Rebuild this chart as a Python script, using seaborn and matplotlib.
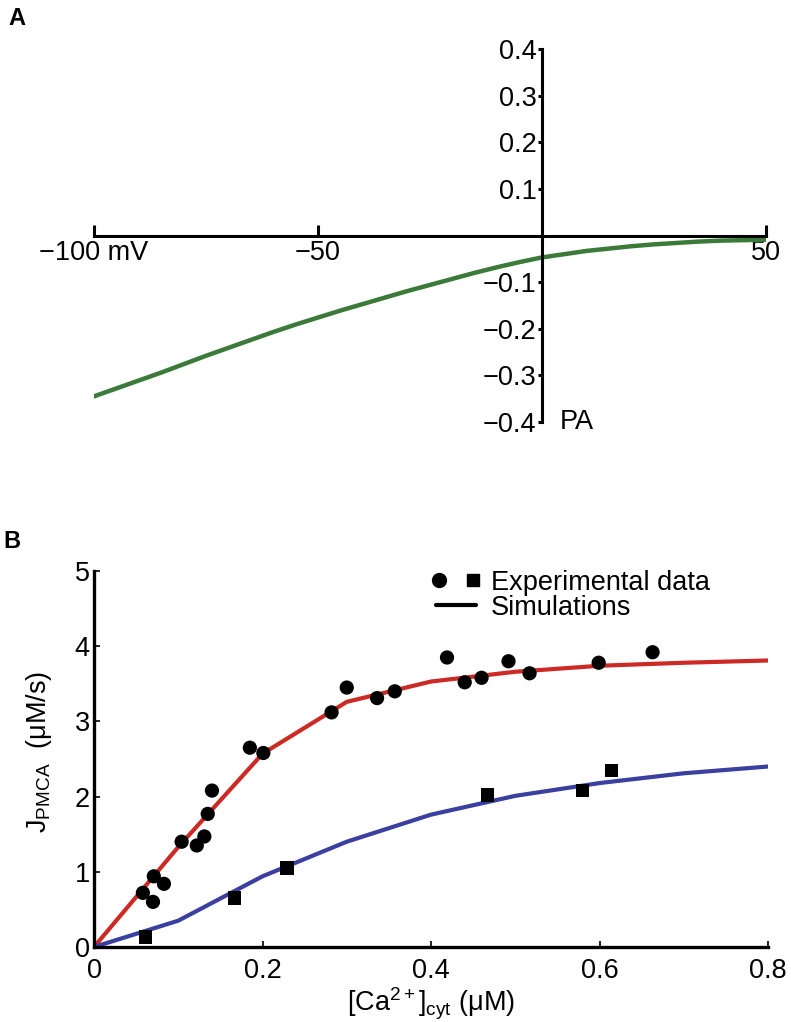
import numpy as np
import pandas as pd
import matplotlib
matplotlib.use('Agg')
import matplotlib.pyplot as plt
import seaborn as sns
from matplotlib.lines import Line2D
from matplotlib.legend_handler import HandlerTuple

# --- data ---
# Panel A: I-V relation of the pump current
voltage_mv = [-100, -95, -90, -85, -80, -75, -70, -65, -60, -55, -50, -45, -40,
              -35, -30, -25, -20, -15, -10, -5, 0, 5, 10, 15, 20, 25, 30, 35,
              40, 45, 50]
current_pa = [-0.345, -0.328, -0.311, -0.294, -0.276, -0.258, -0.241, -0.224,
              -0.207, -0.191, -0.176, -0.161, -0.147, -0.133, -0.119, -0.106,
              -0.093, -0.080, -0.068, -0.057, -0.047, -0.040, -0.033, -0.028,
              -0.023, -0.019, -0.016, -0.013, -0.011, -0.010, -0.009]
a_xticks = [-100, -50, 50]
a_xticklabels = ['\u2212100 mV', '\u221250', '50']
a_yticks = [-0.4, -0.3, -0.2, -0.1, 0.1, 0.2, 0.3, 0.4]

# Panel B: PMCA flux vs cytosolic Ca2+
sim_ca = [0, 0.1, 0.2, 0.3, 0.4, 0.5, 0.6, 0.7, 0.8]
sim_j_red = [0, 1.33, 2.57, 3.26, 3.53, 3.66, 3.74, 3.78, 3.81]
sim_j_blue = [0, 0.35, 0.94, 1.40, 1.76, 2.01, 2.18, 2.31, 2.40]

circ_ca = [0.058, 0.070, 0.071, 0.083, 0.104, 0.122, 0.131, 0.135, 0.140, 0.185,
           0.201, 0.282, 0.300, 0.336, 0.357, 0.419, 0.440, 0.460, 0.492, 0.517,
           0.599, 0.663]
circ_j = [0.72, 0.60, 0.94, 0.84, 1.40, 1.35, 1.47, 1.77, 2.08, 2.65,
          2.58, 3.12, 3.45, 3.31, 3.40, 3.85, 3.52, 3.58, 3.80, 3.64,
          3.78, 3.92]
sq_ca = [0.061, 0.167, 0.229, 0.467, 0.580, 0.614]
sq_j = [0.13, 0.65, 1.05, 2.02, 2.08, 2.35]

b_xticks = [0, 0.2, 0.4, 0.6, 0.8]
b_yticks = [0, 1, 2, 3, 4, 5]

green = '#3b7a39'
red = '#cc2a24'
blue = '#3a3fa0'

sns.set_theme(style="white")
plt.rcParams['font.family'] = ['Liberation Sans', 'DejaVu Sans']
plt.rcParams['mathtext.fontset'] = 'custom'
plt.rcParams['mathtext.rm'] = 'Liberation Sans'
plt.rcParams['mathtext.it'] = 'Liberation Sans:italic'
plt.rcParams['mathtext.bf'] = 'Liberation Sans:bold'
plt.rcParams['text.color'] = 'black'
plt.rcParams['axes.labelcolor'] = 'black'

FS = 19.5

W, H = 791, 1022
fig = plt.figure(figsize=(W / 100, H / 100), dpi=100)

# ---------------- Panel A ----------------
axA = fig.add_axes([94 / W, 1 - 422 / H, 672 / W, 373 / H])
sns.lineplot(x=voltage_mv, y=current_pa, color=green, lw=3.2, ax=axA)
axA.set_xlim(-100, 50)
axA.set_ylim(-0.4, 0.4)
for s in ['top', 'right']:
    axA.spines[s].set_visible(False)
for s in ['left', 'bottom']:
    axA.spines[s].set_position(('data', 0))
    axA.spines[s].set_linewidth(2.2)
    axA.spines[s].set_color('black')
axA.set_xticks(a_xticks)
axA.set_xticklabels(a_xticklabels)
axA.set_yticks(a_yticks)
axA.set_yticklabels([f'{v:.1f}'.replace('-', '\u2212') for v in a_yticks])
axA.tick_params(axis='x', direction='in', length=8, width=2.2, pad=3,
                labelsize=FS, colors='black', bottom=True)
axA.tick_params(axis='y', direction='out', length=3, width=2.2, pad=1,
                labelsize=FS, colors='black', left=True)
axA.set_xlabel('')
axA.set_ylabel('')
axA.text(4, -0.4, 'PA', ha='left', va='center', fontsize=FS)

# ---------------- Panel B ----------------
axB = fig.add_axes([94 / W, 1 - 947 / H, 674 / W, 376 / H])
sns.lineplot(x=sim_ca, y=sim_j_red, color=red, lw=3, ax=axB)
sns.lineplot(x=sim_ca, y=sim_j_blue, color=blue, lw=3, ax=axB)
sns.scatterplot(x=circ_ca, y=circ_j, marker='o', s=105, color='black',
                edgecolor='none', ax=axB, zorder=3)
sns.scatterplot(x=sq_ca, y=sq_j, marker='s', s=95, color='black',
                edgecolor='none', ax=axB, zorder=3, clip_on=False)
axB.set_xlim(0, 0.8)
axB.set_ylim(0, 5)
for s in ['top', 'right']:
    axB.spines[s].set_visible(False)
for s in ['left', 'bottom']:
    axB.spines[s].set_linewidth(2.4)
    axB.spines[s].set_color('black')
axB.set_xticks(b_xticks)
axB.set_xticklabels(['0', '0.2', '0.4', '0.6', '0.8'])
axB.set_yticks(b_yticks)
axB.set_yticklabels([str(v) for v in b_yticks])
axB.tick_params(axis='x', direction='in', length=4, width=1.2, pad=8,
                labelsize=FS, colors='black', bottom=True)
axB.tick_params(axis='y', direction='in', length=4, width=1.2, pad=3,
                labelsize=FS, colors='black', left=True)
axB.set_xlabel('')
axB.set_ylabel('')
axB.text(0.5, (947 - 1011) / 376, '[Ca$^{2+}$]$_{\\mathrm{cyt}}$ (\u03bcM)',
         transform=axB.transAxes, ha='center', va='baseline', fontsize=FS)
axB.text((46 - 94) / 674, (947 - 752) / 376, '$\\mathrm{J_{PMCA}}$  (\u03bcM/s)',
         transform=axB.transAxes, rotation=90, rotation_mode='anchor',
         ha='center', va='baseline', fontsize=FS)

circ_h = Line2D([], [], marker='o', ls='none', color='black', markersize=10)
sq_h = Line2D([], [], marker='s', ls='none', color='black', markersize=9)
sim_h = Line2D([], [], color='black', lw=3)
axB.legend([(circ_h, sq_h), sim_h], ['Experimental data', 'Simulations'],
           handler_map={tuple: HandlerTuple(ndivide=None, pad=1.04)},
           loc='upper left', bbox_to_anchor=((436 - 94) / 674, 1.003),
           frameon=False, fontsize=FS, handlelength=1.48, handletextpad=0.55,
           labelspacing=-0.05, borderpad=0, borderaxespad=0)

# panel letters
fig.text(8 / W, 1 - 25 / H, 'A', fontsize=17, fontweight='bold', va='baseline')
fig.text(3 / W, 1 - 548 / H, 'B', fontsize=17, fontweight='bold', va='baseline')

fig.savefig('out.png', dpi=100)
